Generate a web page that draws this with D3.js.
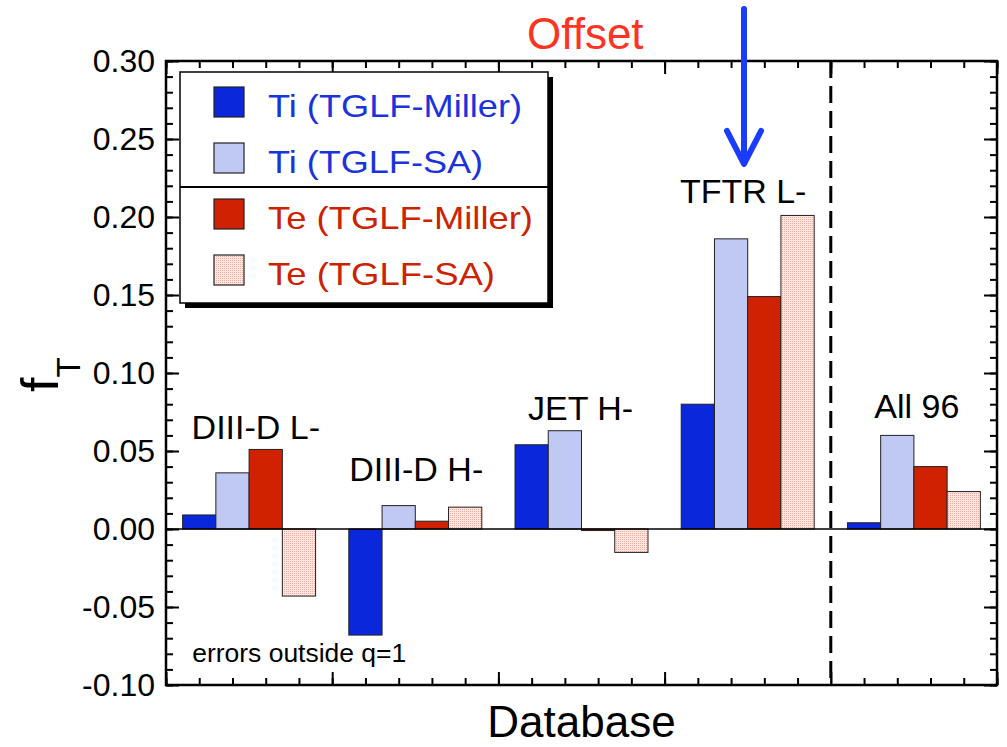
<!DOCTYPE html>
<html>
<head>
<meta charset="utf-8">
<script src="https://cdn.jsdelivr.net/npm/d3@7"></script>
<style>
  body { margin: 0; background: #fff; }
  svg { display: block; }
  text { font-family: "Liberation Sans", Arial, sans-serif; }
</style>
</head>
<body>
<svg id="drawing_region"></svg>
<script>
// data
const groups = ["DIII-D L-", "DIII-D H-", "JET H-", "TFTR L-", "All 96"];
const seriesNames = ["Ti (TGLF-Miller)", "Ti (TGLF-SA)", "Te (TGLF-Miller)", "Te (TGLF-SA)"];
const tiMiller = [0.009, -0.068, 0.054, 0.080, 0.004];
const tiSA     = [0.036, 0.015, 0.063, 0.186, 0.060];
const teMiller = [0.051, 0.005, -0.001, 0.149, 0.040];
const teSA     = [-0.043, 0.014, -0.015, 0.201, 0.024];
const yTickLabels = [-0.10, -0.05, 0.00, 0.05, 0.10, 0.15, 0.20, 0.25, 0.30];

const seriesValues = [tiMiller, tiSA, teMiller, teSA];
const fills = ["#0b27db", "#c0c8f4", "#d02200", "url(#hatch)"];
const textColors = ["#1a33dd", "#1a33dd", "#cc2200", "#cc2200"];

class BarChart {
    constructor(config) {
        this.config = config;
        this.init();
    }

    init() {
        let self = this;
        const c = self.config;
        self.svg = d3.select(c.parent)
            .attr('width', c.width)
            .attr('height', c.height);

        const defs = self.svg.append('defs');
        const pat = defs.append('pattern')
            .attr('id', 'hatch')
            .attr('patternUnits', 'userSpaceOnUse')
            .attr('width', 2).attr('height', 2);
        pat.append('rect').attr('width', 2).attr('height', 2).attr('fill', '#fde9e4');
        pat.append('rect').attr('width', 1).attr('height', 1).attr('fill', '#f2ada2');

        self.inner_width = c.width - c.margin.left - c.margin.right;
        self.inner_height = c.height - c.margin.top - c.margin.bottom;

        self.chart = self.svg.append('g')
            .attr('transform', `translate(${c.margin.left}, ${c.margin.top})`);

        // 25 slots: 5 groups x 5 slots, bars centred on slots 1..4 of each group
        self.xscale = d3.scaleLinear().domain([0, groups.length * 5]).range([0, self.inner_width]);
        self.yscale = d3.scaleLinear().domain([-0.1, 0.3]).range([self.inner_height, 0]);
    }

    render() {
        let self = this;
        const x = self.xscale, y = self.yscale;
        const W = self.inner_width, H = self.inner_height;
        const bw = x(1) - x(0);

        const bars = [];
        seriesValues.forEach((vals, j) => {
            vals.forEach((v, i) => bars.push({ i, j, v }));
        });

        self.chart.selectAll('rect.bar')
            .data(bars)
            .join('rect')
            .attr('class', 'bar')
            .attr('x', d => x(d.i * 5 + d.j + 0.5))
            .attr('width', bw)
            .attr('y', d => y(Math.max(0, d.v)))
            .attr('height', d => Math.abs(y(d.v) - y(0)))
            .attr('fill', d => fills[d.j])
            .attr('stroke', '#222')
            .attr('stroke-width', 1);

        // zero line
        self.chart.append('line')
            .attr('x1', 0).attr('x2', W)
            .attr('y1', y(0)).attr('y2', y(0))
            .attr('stroke', '#000').attr('stroke-width', 1.5);

        // dashed separator before "All 96"
        self.chart.append('line')
            .attr('x1', x(20)).attr('x2', x(20))
            .attr('y1', 0).attr('y2', H)
            .attr('stroke', '#000').attr('stroke-width', 3)
            .attr('stroke-dasharray', '17,8');

        // axes (ticks pointing inward)
        const majorX = d3.range(0, 26, 5), minorX = d3.range(0, 26);
        const majorY = yTickLabels, minorY = d3.range(-10, 31).map(k => k / 100);
        const fmt = d => d3.format('.2f')(d).replace('\u2212', '-');

        const addAxis = (axis, tr) => {
            const g = self.chart.append('g').attr('transform', tr).call(axis);
            g.select('.domain').remove();
            g.selectAll('line').attr('stroke', '#000').attr('stroke-width', 2);
            return g;
        };

        addAxis(d3.axisBottom(x).tickValues(minorX).tickSize(-7).tickFormat(''), `translate(0,${H})`);
        addAxis(d3.axisBottom(x).tickValues(majorX).tickSize(-13).tickFormat(''), `translate(0,${H})`);
        addAxis(d3.axisTop(x).tickValues(minorX).tickSize(-7).tickFormat(''), 'translate(0,0)');
        addAxis(d3.axisTop(x).tickValues(majorX).tickSize(-13).tickFormat(''), 'translate(0,0)');
        addAxis(d3.axisLeft(y).tickValues(minorY).tickSize(-7).tickFormat(''), 'translate(0,0)');
        const yl = addAxis(d3.axisLeft(y).tickValues(majorY).tickSize(-13).tickPadding(11).tickFormat(fmt), 'translate(0,0)');
        yl.selectAll('text')
            .attr('font-family', '"Liberation Sans", Arial, sans-serif')
            .attr('font-size', 32)
            .attr('fill', '#000');
        addAxis(d3.axisRight(y).tickValues(minorY).tickSize(-7).tickFormat(''), `translate(${W},0)`);
        addAxis(d3.axisRight(y).tickValues(majorY).tickSize(-13).tickFormat(''), `translate(${W},0)`);

        self.chart.append('rect')
            .attr('width', W).attr('height', H)
            .attr('fill', 'none').attr('stroke', '#000').attr('stroke-width', 2.5);

        // group labels (slot units, value units for baseline)
        const labelPos = [[0.77, 0.0577], [5.51, 0.0308], [10.89, 0.0699], [15.46, 0.2088], [21.31, 0.0713]];
        self.chart.selectAll('text.group')
            .data(groups)
            .join('text')
            .attr('class', 'group')
            .attr('x', (d, i) => x(labelPos[i][0]))
            .attr('y', (d, i) => y(labelPos[i][1]))
            .attr('font-size', 34)
            .text(d => d);

        self.chart.append('text')
            .attr('x', x(0.79))
            .attr('y', y(-0.0851))
            .attr('font-size', 25)
            .attr('textLength', 214)
            .attr('lengthAdjust', 'spacingAndGlyphs')
            .text('errors outside q=1');

        // axis titles
        self.svg.append('text')
            .attr('x', self.config.margin.left + W / 2)
            .attr('y', 737)
            .attr('text-anchor', 'middle')
            .attr('font-size', 44)
            .text('Database');

        const yt = self.svg.append('text')
            .attr('transform', 'translate(58, 392) rotate(-90)')
            .attr('font-size', 52);
        yt.append('tspan').text('f');
        yt.append('tspan').attr('font-size', 33).attr('dy', 22).text('T');

        // annotation above the plot
        self.svg.append('text')
            .attr('x', 527).attr('y', 49)
            .attr('font-size', 44)
            .attr('fill', '#ff3322')
            .text('Offset');

        self.svg.append('path')
            .attr('d', 'M744,9 L744,163 M727,131 L744,164 L761,131')
            .attr('fill', 'none')
            .attr('stroke', '#1a3cff')
            .attr('stroke-width', 6)
            .attr('stroke-linecap', 'round')
            .attr('stroke-linejoin', 'round');

        self.legend();
    }

    legend() {
        let self = this;
        const lx = 180, ly = 72, lw = 368, lh = 231;
        const lg = self.svg.append('g');
        lg.append('rect')
            .attr('x', lx + 5).attr('y', ly + 5)
            .attr('width', lw).attr('height', lh)
            .attr('fill', '#000');
        lg.append('rect')
            .attr('x', lx).attr('y', ly)
            .attr('width', lw).attr('height', lh)
            .attr('fill', '#fff').attr('stroke', '#000').attr('stroke-width', 1.5);
        lg.append('line')
            .attr('x1', lx).attr('x2', lx + lw)
            .attr('y1', 187).attr('y2', 187)
            .attr('stroke', '#000').attr('stroke-width', 2);

        const textLen = [254, 215, 265, 227];
        const items = lg.selectAll('g.item')
            .data(seriesNames)
            .join('g')
            .attr('class', 'item')
            .attr('transform', (d, i) => `translate(0, ${i * 56})`);
        items.append('rect')
            .attr('x', 214).attr('y', 87)
            .attr('width', 30).attr('height', 30)
            .attr('fill', (d, i) => fills[i])
            .attr('stroke', '#222').attr('stroke-width', 1.2);
        items.append('text')
            .attr('x', 268).attr('y', 117)
            .attr('font-family', '"DejaVu Sans", Verdana, sans-serif')
            .attr('font-size', 32)
            .attr('textLength', (d, i) => textLen[i])
            .attr('lengthAdjust', 'spacingAndGlyphs')
            .attr('fill', (d, i) => textColors[i])
            .text(d => d);
    }
}

const chart = new BarChart({
    parent: '#drawing_region',
    width: 1007,
    height: 747,
    margin: { top: 61, right: 10, bottom: 62, left: 166 }
});
chart.render();
</script>
</body>
</html>
